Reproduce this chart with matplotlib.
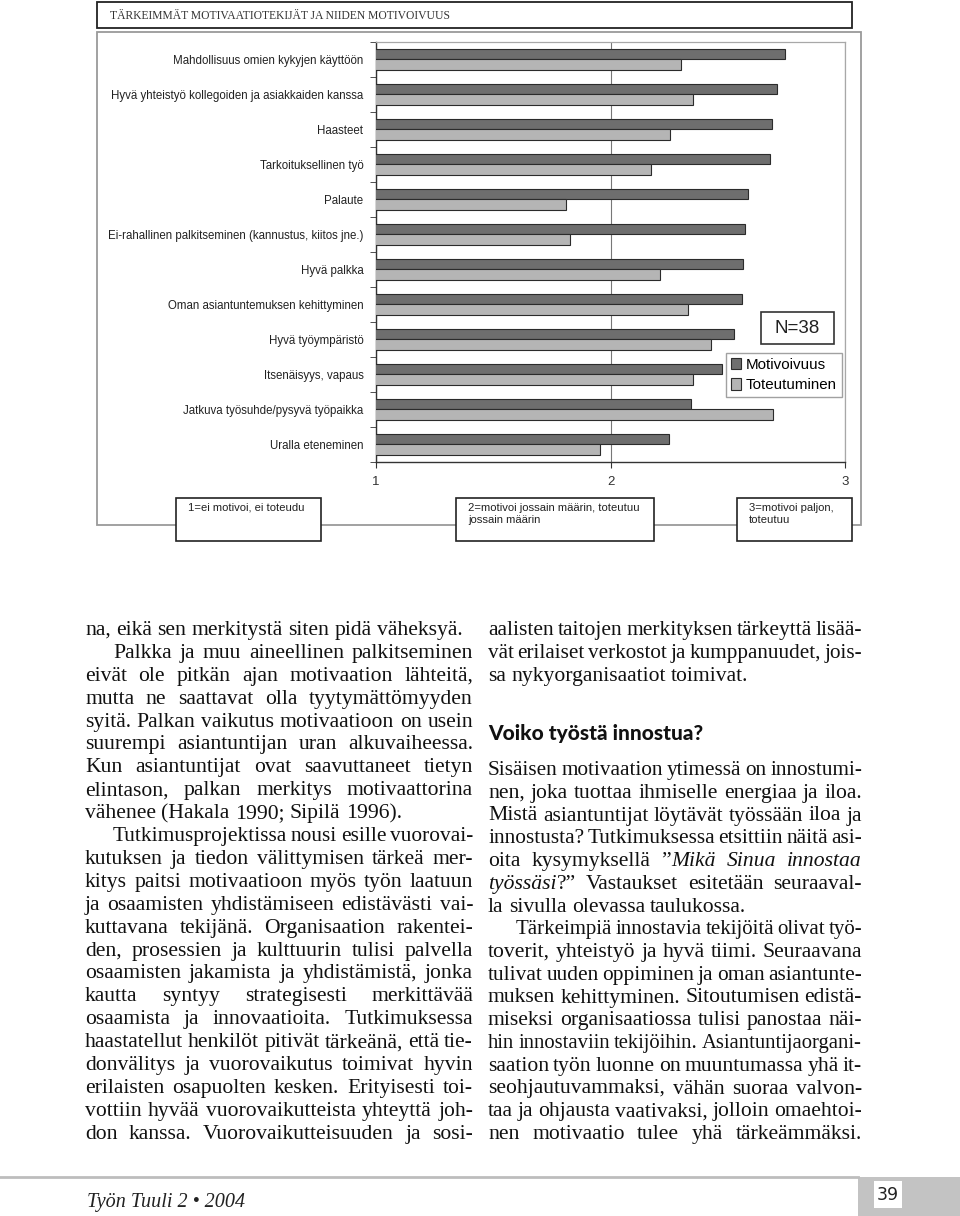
import numpy as np
import matplotlib
matplotlib.use("Agg")
import matplotlib.pyplot as plt
from matplotlib.patches import Rectangle
from matplotlib.font_manager import FontProperties

# ---------------- data ----------------
chart_title = "TÄRKEIMMÄT MOTIVAATIOTEKIJÄT JA NIIDEN MOTIVOIVUUS"
categories = [
    "Mahdollisuus omien kykyjen käyttöön",
    "Hyvä yhteistyö kollegoiden ja asiakkaiden kanssa",
    "Haasteet",
    "Tarkoituksellinen työ",
    "Palaute",
    "Ei-rahallinen palkitseminen (kannustus, kiitos jne.)",
    "Hyvä palkka",
    "Oman asiantuntemuksen kehittyminen",
    "Hyvä työympäristö",
    "Itsenäisyys, vapaus",
    "Jatkuva työsuhde/pysyvä työpaikka",
    "Uralla eteneminen",
]
motivoivuus = [2.745, 2.709, 2.689, 2.679, 2.587, 2.572, 2.564, 2.560, 2.526, 2.477, 2.343, 2.251]
toteutuminen = [2.302, 2.351, 2.255, 2.172, 1.811, 1.826, 2.213, 2.332, 2.430, 2.351, 2.694, 1.957]
series_names = ["Motivoivuus", "Toteutuminen"]
x_ticks = [1, 2, 3]
n_label = "N=38"
scale_notes = [
    "1=ei motivoi, ei toteudu",
    "2=motivoi jossain määrin, toteutuu\njossain määrin",
    "3=motivoi paljon,\ntoteutuu",
]

# body text: paragraphs = (indent, justify_last, lines); _..._ marks italic
left_paragraphs = [
    (False, False, ["na, eikä sen merkitystä siten pidä väheksyä."]),
    (True, False, [
        "Palkka ja muu aineellinen palkitseminen",
        "eivät ole pitkän ajan motivaation lähteitä,",
        "mutta ne saattavat olla tyytymättömyyden",
        "syitä. Palkan vaikutus motivaatioon on usein",
        "suurempi asiantuntijan uran alkuvaiheessa.",
        "Kun asiantuntijat ovat saavuttaneet tietyn",
        "elintason, palkan merkitys motivaattorina",
        "vähenee (Hakala 1990; Sipilä 1996).",
    ]),
    (True, True, [
        "Tutkimusprojektissa nousi esille vuorovai-",
        "kutuksen ja tiedon välittymisen tärkeä mer-",
        "kitys paitsi motivaatioon myös työn laatuun",
        "ja osaamisten yhdistämiseen edistävästi vai-",
        "kuttavana tekijänä. Organisaation rakentei-",
        "den, prosessien ja kulttuurin tulisi palvella",
        "osaamisten jakamista ja yhdistämistä, jonka",
        "kautta syntyy strategisesti merkittävää",
        "osaamista ja innovaatioita. Tutkimuksessa",
        "haastatellut henkilöt pitivät tärkeänä, että tie-",
        "donvälitys ja vuorovaikutus toimivat hyvin",
        "erilaisten osapuolten kesken. Erityisesti toi-",
        "vottiin hyvää vuorovaikutteista yhteyttä joh-",
        "don kanssa. Vuorovaikutteisuuden ja sosi-",
    ]),
]
right_paragraphs_a = [
    (False, False, [
        "aalisten taitojen merkityksen tärkeyttä lisää-",
        "vät erilaiset verkostot ja kumppanuudet, jois-",
        "sa nykyorganisaatiot toimivat.",
    ]),
]
heading = "Voiko työstä innostua?"
right_paragraphs_b = [
    (False, False, [
        "Sisäisen motivaation ytimessä on innostumi-",
        "nen, joka tuottaa ihmiselle energiaa ja iloa.",
        "Mistä asiantuntijat löytävät työssään iloa ja",
        "innostusta? Tutkimuksessa etsittiin näitä asi-",
        "oita kysymyksellä ”_Mikä Sinua innostaa_",
        "_työssäsi_?” Vastaukset esitetään seuraaval-",
        "la sivulla olevassa taulukossa.",
    ]),
    (True, True, [
        "Tärkeimpiä innostavia tekijöitä olivat työ-",
        "toverit, yhteistyö ja hyvä tiimi. Seuraavana",
        "tulivat uuden oppiminen ja oman asiantunte-",
        "muksen kehittyminen. Sitoutumisen edistä-",
        "miseksi organisaatiossa tulisi panostaa näi-",
        "hin innostaviin tekijöihin. Asiantuntijaorgani-",
        "saation työn luonne on muuntumassa yhä it-",
        "seohjautuvammaksi, vähän suoraa valvon-",
        "taa ja ohjausta vaativaksi, jolloin omaehtoi-",
        "nen motivaatio tulee yhä tärkeämmäksi.",
    ]),
]
footer = "Työn Tuuli 2 • 2004"
page_number = "39"

# ---------------- figure ----------------
W, H = 960, 1216
fig = plt.figure(figsize=(W / 100, H / 100), dpi=100)
fig.patch.set_facecolor("white")

base = fig.add_axes([0, 0, 1, 1], zorder=0)
base.set_xlim(0, W)
base.set_ylim(H, 0)
base.axis("off")

top = fig.add_axes([0, 0, 1, 1], zorder=3)
top.set_xlim(0, W)
top.set_ylim(H, 0)
top.axis("off")
top.patch.set_alpha(0)

SANS = ["Liberation Sans", "DejaVu Sans"]
SERIF = ["Liberation Serif", "DejaVu Serif"]

# title box and chart frame
base.add_patch(Rectangle((97, 2), 755, 26, fill=False, ec="#222222", lw=1.3))
base.text(110, 16, chart_title, family=SERIF, fontsize=8.4, color="#333333",
          va="center", ha="left")
base.add_patch(Rectangle((97, 32), 764, 493, fill=False, ec="#9a9a9a", lw=1.3))

# chart axes
ax = fig.add_axes([376 / W, 1 - 462 / H, 469 / W, 420 / H], zorder=1)
n = len(categories)
y = np.arange(n)
bh = 0.295
b1 = ax.barh(y - bh / 2, motivoivuus, height=bh, color="#6e6e6e",
             edgecolor="#2b2b2b", lw=0.8, label=series_names[0], zorder=3)
b2 = ax.barh(y + bh / 2, toteutuminen, height=bh, color="#b5b5b5",
             edgecolor="#2b2b2b", lw=0.8, label=series_names[1], zorder=3)
ax.set_xlim(x_ticks[0], x_ticks[-1])
ax.set_ylim(n - 0.5, -0.5)
ax.set_xticks(x_ticks)
ax.set_xticklabels([str(v) for v in x_ticks], family=SANS, fontsize=9.5, color="#333333")
ax.tick_params(axis="x", length=4, pad=6, color="#333333", direction="out")
ax.set_yticks(y)
ax.set_yticklabels(categories, family=SANS, fontsize=8.3, color="#222222")
ax.set_yticks(np.arange(n + 1) - 0.5, minor=True)
ax.tick_params(axis="y", which="major", length=0, pad=9)
ax.tick_params(axis="y", which="minor", length=4, color="#333333", direction="out")
ax.grid(axis="x", color="#777777", lw=0.8, zorder=0)
ax.set_axisbelow(True)
for s in ["left", "bottom"]:
    ax.spines[s].set_color("#333333")
    ax.spines[s].set_linewidth(1.0)
for s in ["top", "right"]:
    ax.spines[s].set_color("#a8a8a8")
    ax.spines[s].set_linewidth(0.9)

leg = ax.legend(handles=[b1, b2], labels=series_names, loc="upper left",
                bbox_to_anchor=(726 / W, 1 - 353 / H), bbox_transform=fig.transFigure,
                frameon=True, fancybox=False, edgecolor="#8a8a8a",
                prop=FontProperties(family=SANS, size=10.9),
                handlelength=0.7, handleheight=0.8, handletextpad=0.3,
                borderpad=0.32, labelspacing=0.42, borderaxespad=0)
leg.get_frame().set_linewidth(1.0)
leg.set_zorder(10)

# N box
top.add_patch(Rectangle((761, 312), 73, 32, fc="white", ec="#333333", lw=1.2))
top.text(797.5, 328.5, n_label, family=SANS, fontsize=13.5, color="#222222",
         ha="center", va="center")

# scale note boxes
note_boxes = [(176, 145), (456, 198), (737, 115)]
for (bx, bw), note in zip(note_boxes, scale_notes):
    top.add_patch(Rectangle((bx, 498), bw, 43, fc="white", ec="#222222", lw=1.2))
    top.text(bx + 12, 503, note, family=SANS, fontsize=8.1, color="#222222",
             ha="left", va="top", linespacing=1.3)

# ---------------- body text (justified) ----------------
renderer = fig.canvas.get_renderer()
BODY_SIZE = 15.6
_fp_cache = {}


def get_fp(size, italic):
    key = (round(size, 3), italic)
    if key not in _fp_cache:
        _fp_cache[key] = FontProperties(family=SERIF, size=size,
                                        style="italic" if italic else "normal")
    return _fp_cache[key]


def parse_words(line):
    words = []
    italic = False
    for raw in line.split(" "):
        segs = []
        parts = raw.split("_")
        for k, p in enumerate(parts):
            if k > 0:
                italic = not italic
            if p:
                segs.append((p, italic))
        words.append(segs)
    return words


def seg_width(text, italic, size):
    w, h, d = renderer.get_text_width_height_descent(text, get_fp(size, italic), ismath=False)
    return w


def space_width(size):
    return seg_width("a a", False, size) - seg_width("aa", False, size)


def draw_line(line, x0, x1, yb, justify):
    words = parse_words(line)
    size = BODY_SIZE
    widths = [sum(seg_width(t, it, size) for t, it in w) for w in words]
    sw = space_width(size)
    natural = sum(widths) + 0.75 * sw * (len(words) - 1)
    if natural > (x1 - x0):
        size = size * (x1 - x0) / natural
        widths = [sum(seg_width(t, it, size) for t, it in w) for w in words]
        sw = space_width(size)
    total = sum(widths)
    if justify and len(words) > 1:
        gap = (x1 - x0 - total) / (len(words) - 1)
    else:
        gap = sw
    x = x0
    for w, ww in zip(words, widths):
        xs = x
        for t, it in w:
            base.text(xs, yb, t, fontproperties=get_fp(size, it),
                      color="#111111", ha="left", va="baseline")
            xs += seg_width(t, it, size)
        x += ww + gap


def draw_column(paragraphs, x0, x1, y_start, pitch, indent=28):
    yb = y_start
    for ind, just_last, lines in paragraphs:
        for i, line in enumerate(lines):
            last = i == len(lines) - 1
            xs = x0 + (indent if (ind and i == 0) else 0)
            draw_line(line, xs, x1, yb, (not last) or just_last)
            yb += pitch
    return yb


draw_column(left_paragraphs, 85, 473, 635, 22.9)
draw_column(right_paragraphs_a, 488, 862, 635, 22.9)
base.text(488, 740, heading, family=["Lato", "Open Sans", "DejaVu Sans"], fontweight="black",
          fontsize=15, color="#111111", ha="left", va="baseline")
draw_column(right_paragraphs_b, 488, 862, 775, 22.75)

# footer
base.plot([0, 858], [1177, 1177], color="#bdbdbd", lw=2)
base.add_patch(Rectangle((858, 1177), 102, 39, fc="#c3c3c3", ec="none"))
base.add_patch(Rectangle((874, 1181), 28, 27, fc="white", ec="none"))
base.text(888, 1195, page_number, family=["DejaVu Sans"], fontsize=12.5,
          color="#222222", ha="center", va="center")
base.text(87, 1207, footer, family=SERIF, style="italic", fontsize=14.5,
          color="#222222", ha="left", va="baseline")

fig.savefig("out.png", dpi=100, facecolor="white")
